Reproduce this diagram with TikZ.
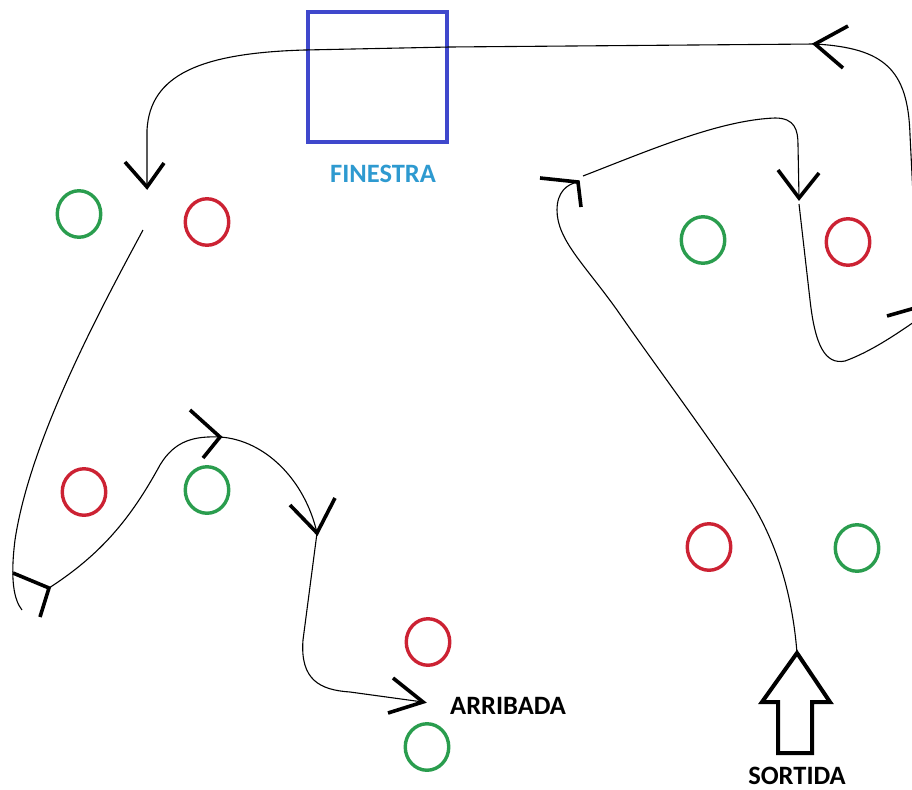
\documentclass[tikz,border=0pt]{standalone}
\usepackage{fontspec}
\setmainfont{Carlito}
\usetikzlibrary{shapes.geometric}
\definecolor{ringred}{HTML}{CC2233}
\definecolor{ringgreen}{HTML}{2A9D4E}
\definecolor{boxblue}{HTML}{3F48CC}
\definecolor{labelblue}{HTML}{2E9AD0}
\tikzset{
  ring/.style={ellipse, draw, line width=3.4pt, inner sep=0pt, minimum width=43.5pt, minimum height=46.5pt},
  redring/.style={ring, draw=ringred},
  greenring/.style={ring, draw=ringgreen},
  flow/.style={line width=1.1pt, black},
  tipstroke/.style={line width=3.6pt, black},
  lbl/.style={font=\fontsize{26.5}{30}\selectfont\bfseries, inner sep=0pt}
}
\begin{document}
\begin{tikzpicture}[x=1pt,y=-1pt]
\useasboundingbox[fill=white] (0,0) rectangle (912,789);

% window
\node[draw=boxblue, line width=4pt, minimum width=139pt, minimum height=130pt, inner sep=0pt] (win) at (377.5,77) {};
\node[lbl, text=labelblue, anchor=base] (winlbl) at (383,182) {FINESTRA};

% circles
\node[greenring] (g1) at (79,214) {};
\node[redring]   (r1) at (207,222) {};
\node[greenring] (g2) at (703,240) {};
\node[redring]   (r2) at (848,242) {};
\node[redring]   (r3) at (84,492) {};
\node[greenring] (g3) at (207,490) {};
\node[redring]   (r4) at (709,547) {};
\node[greenring] (g4) at (857,548) {};
\node[redring]   (r5) at (428,642) {};
\node[greenring] (g5) at (427,747) {};

% start arrow and labels
\coordinate (stip) at (797,653);
\draw[line width=4pt, line join=miter] (stip) -- (830,702) -- (812,702) -- (812,753) -- (778,753) -- (778,702) -- (762,702) -- cycle;
\node[lbl, anchor=base] (sortida) at (797,784) {SORTIDA};
\node[lbl, anchor=west] (arribada) at (450,706) {ARRIBADA};

% named points of the route
\coordinate (a1) at (578,182);
\coordinate (a1s) at (583,176);
\coordinate (a2) at (799,198);
\coordinate (a2s) at (799,204);
\coordinate (a3e) at (914,322);
\coordinate (edge) at (913,195);
\coordinate (a4) at (815,44);
\coordinate (a5) at (147,187);
\coordinate (l0) at (143,230);
\coordinate (l1) at (22,610);
\coordinate (a6) at (49,588);
\coordinate (a7) at (220,437);
\coordinate (a8) at (317,533);
\coordinate (a9) at (423,702);

% route
\draw[flow] (stip) .. controls (792,590) and (775,540) .. (750,500)
  .. controls (715,445) and (655,365) .. (617,310)
  .. controls (585,265) and (557,240) .. (557,210)
  .. controls (557,192) and (567,184) .. (a1);
\draw[flow] (a1s) .. controls (650,150) and (720,120) .. (775,118)
  .. controls (795,118) and (798,130) .. (798,145) -- (a2);
\draw[flow] (a2s) -- (810,300) .. controls (815,345) and (825,365) .. (845,361)
  .. controls (870,352) and (895,335) .. (a3e);
\draw[flow] (edge) -- (910,135) .. controls (908,70) and (885,48) .. (a4);
\draw[flow] (a4) -- (450,47) -- (305,50) .. controls (200,53) and (150,75) .. (147,130) -- (a5);
\draw[flow] (l0) .. controls (100,310) and (30,440) .. (15,540) .. controls (10,580) and (14,600) .. (l1);
\draw[flow] (a6) .. controls (100,555) and (130,520) .. (160,465) .. controls (175,440) and (195,436) .. (a7);
\draw[flow] (a7) .. controls (265,440) and (305,480) .. (a8);
\draw[flow] (a8) -- (303,640) .. controls (300,680) and (320,690) .. (350,692) -- (a9);

% hand-drawn arrowheads
\draw[tipstroke] (540,178) -- (a1) -- (581,207);
\draw[tipstroke] (778,170) -- (a2) -- (819,173);
\draw[tipstroke] (887,316) -- (915,308);
\draw[tipstroke] (848,26) -- (a4) -- (843,68);
\draw[tipstroke] (125,162) -- (a5) -- (164,163);
\draw[tipstroke] (13,573) -- (a6) -- (40,617);
\draw[tipstroke] (190,410) -- (a7) -- (203,458);
\draw[tipstroke] (290,505) -- (a8) -- (335,498);
\draw[tipstroke] (393,678) -- (a9) -- (388,713);
\end{tikzpicture}
\end{document}
